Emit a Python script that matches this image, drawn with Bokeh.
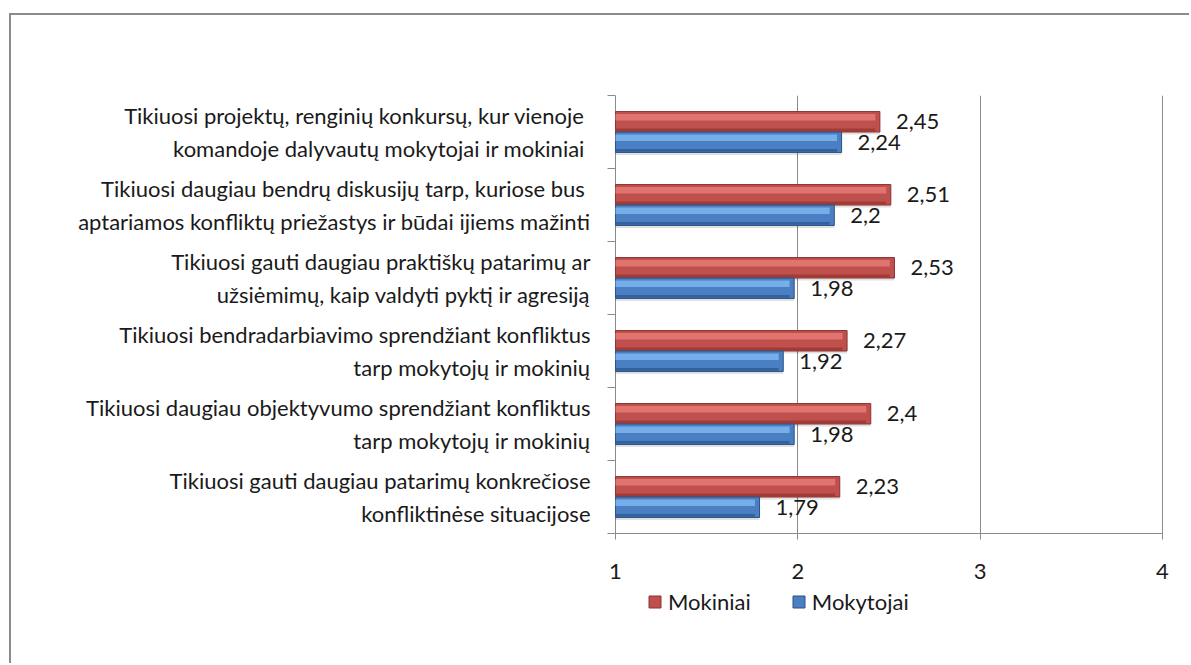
from bokeh.plotting import figure
from bokeh.models import (FixedTicker, ColumnDataSource, Legend, LegendItem, Range1d)
from bokeh.core.properties import value
from bokeh.embed import file_html
from bokeh.resources import INLINE

# ---- data (top to bottom) ----
categories = [
    "Tikiuosi projektų, renginių  konkursų, kur vienoje\nkomandoje dalyvautų mokytojai ir  mokiniai",
    "Tikiuosi  daugiau bendrų diskusijų tarp, kuriose bus\naptariamos konfliktų priežastys ir būdai ijiems mažinti",
    "Tikiuosi gauti daugiau praktiškų patarimų ar\nužsiėmimų, kaip valdyti pyktį ir agresiją",
    "Tikiuosi bendradarbiavimo sprendžiant konfliktus\ntarp mokytojų ir mokinių",
    "Tikiuosi daugiau objektyvumo sprendžiant konfliktus\ntarp mokytojų ir mokinių",
    "Tikiuosi gauti daugiau patarimų konkrečiose\nkonfliktinėse situacijose",
]
mokiniai = [2.45, 2.51, 2.53, 2.27, 2.40, 2.23]
mokytojai = [2.24, 2.20, 1.98, 1.92, 1.98, 1.79]
series_names = ["Mokiniai", "Mokytojai"]
x_ticks = [1, 2, 3, 4]

FONT = "Lato"
FS = "22px"
TXT = "#1a1a1a"
GRID = "#8a8a8a"

n = len(categories)
centers = [n - 0.5 - i for i in range(n)]
bounds = [float(i) for i in range(n + 1)]
BH = 0.28

# layout geometry (pixels)
FIG_X, FIG_Y = 11, 15               # figure origin on the page (inside grey frame)
FIG_W, FIG_H = 1180, 650
B_LEFT, B_TOP = 596, 80
AX_LEFT_PX, AX_RIGHT_PX = 615, 1162  # page pixels of x = 1 and x = 4
CAT_PX = 73.0                        # pixels per category row
PX = (AX_RIGHT_PX - AX_LEFT_PX) / (x_ticks[-1] - x_ticks[0])
frame_left = FIG_X + B_LEFT
x_start = x_ticks[0] - (AX_LEFT_PX - frame_left) / PX
x_end = x_ticks[-1] + (FIG_X + FIG_W - AX_RIGHT_PX) / PX
y_start = n - (FIG_H - B_TOP) / CAT_PX  # frame extends below the axis for the legend


def fmt(v):
    return f"{v:g}".replace(".", ",")


def make_src(vals, off):
    ys = [c + off for c in centers]
    return ColumnDataSource(dict(
        y=ys, right=vals, left=[1] * len(vals),
        hl_y=[y + BH * 0.22 for y in ys],
        dk_y=[y - BH * 0.40 for y in ys],
        sh_y=[y - 0.035 for y in ys],
        hl_right=[v - 0.025 for v in vals],
        lab=[fmt(v) for v in vals],
    ))


src_r = make_src(mokiniai, BH / 2)
src_b = make_src(mokytojai, -BH / 2)

p = figure(width=FIG_W, height=FIG_H, output_backend="svg", toolbar_location=None,
           x_range=Range1d(x_start, x_end), y_range=Range1d(y_start, n),
           min_border_left=B_LEFT, min_border_right=0, min_border_top=B_TOP,
           min_border_bottom=0)
# thin grey frame of the original picture (only its top/left edges are visible)
p.styles = {"margin-left": "9px", "margin-top": "13px",
            "border-left": "2px solid #8c8c8c", "border-top": "2px solid #8c8c8c"}
p.outline_line_color = None
p.background_fill_color = "white"
p.border_fill_color = "white"

# x axis, drawn at y = 0
xa = p.xaxis[0]
xa.fixed_location = 0
xa.bounds = (x_ticks[0], x_ticks[-1])
xa.ticker = FixedTicker(ticks=x_ticks, minor_ticks=[])
xa.major_label_overrides = {t: str(t) for t in x_ticks}
xa.axis_line_color = GRID
xa.major_tick_line_color = GRID
xa.major_tick_out = 6
xa.major_tick_in = 0
xa.minor_tick_line_color = None
xa.major_label_standoff = 24
xa.major_label_text_font = FONT
xa.major_label_text_font_size = FS
xa.major_label_text_color = TXT

# y axis: labels at row centres, small ticks at row boundaries
ya = p.yaxis[0]
ya.bounds = (0, n)
ya.ticker = FixedTicker(ticks=centers, minor_ticks=bounds)
ya.major_label_overrides = {c: lab for c, lab in zip(centers, categories)}
ya.axis_line_color = None
ya.major_tick_line_color = None
ya.major_tick_out = 0
ya.major_tick_in = 0
ya.minor_tick_line_color = GRID
ya.minor_tick_out = 0
ya.minor_tick_in = int(round(AX_LEFT_PX - frame_left))
ya.major_label_standoff = 17
ya.major_label_text_font = FONT
ya.major_label_text_font_size = FS
ya.major_label_text_color = TXT
ya.major_label_text_line_height = 1.2

p.ygrid.grid_line_color = None
g = p.xgrid[0]
if "cross_bounds" in g.properties():
    g.ticker = FixedTicker(ticks=x_ticks)
    g.cross_bounds = (0, n)
    g.grid_line_color = GRID
else:
    g.grid_line_color = None
    gsrc = ColumnDataSource(dict(x=x_ticks, y0=[0] * len(x_ticks), y1=[n] * len(x_ticks)))
    p.segment(x0="x", x1="x", y0="y0", y1="y1", source=gsrc, line_color=GRID,
              line_width=1, level="underlay")

# shadows
for src in (src_r, src_b):
    p.hbar(y="sh_y", left="left", right="right", height=BH, source=src,
           fill_color="#000000", fill_alpha=0.12, line_color=None)

renderers = []
for src, base, light, dark, edge in (
        (src_r, "#C0504D", "#E57A76", "#9A3431", "#8A3432"),
        (src_b, "#4A7FC4", "#7DB6EE", "#2D5A94", "#2C5280")):
    r = p.hbar(y="y", left="left", right="right", height=BH, source=src,
               fill_color=base, line_color=edge, line_width=1)
    p.hbar(y="hl_y", left="left", right="hl_right", height=BH * 0.32, source=src,
           fill_color=light, fill_alpha=0.85, line_color=None)
    p.hbar(y="dk_y", left="left", right="hl_right", height=BH * 0.14, source=src,
           fill_color=dark, fill_alpha=0.8, line_color=None)
    p.text(x="right", y="y", text="lab", source=src, x_offset=16, y_offset=0,
           text_font=value(FONT), text_font_size=FS, text_color=TXT,
           text_align="left", text_baseline="middle")
    renderers.append(r)

legend = Legend(items=[LegendItem(label=nm, renderers=[r])
                       for nm, r in zip(series_names, renderers)],
                orientation="horizontal",
                location=(int(round(647 - frame_left)), 50),
                glyph_width=15, glyph_height=15, label_standoff=6, spacing=40,
                padding=0, margin=0, border_line_color=None,
                background_fill_alpha=0, label_text_font=FONT,
                label_text_font_size=FS, label_text_color=TXT)
p.add_layout(legend, "center")

open("out.html", "w").write(file_html(p, INLINE))
